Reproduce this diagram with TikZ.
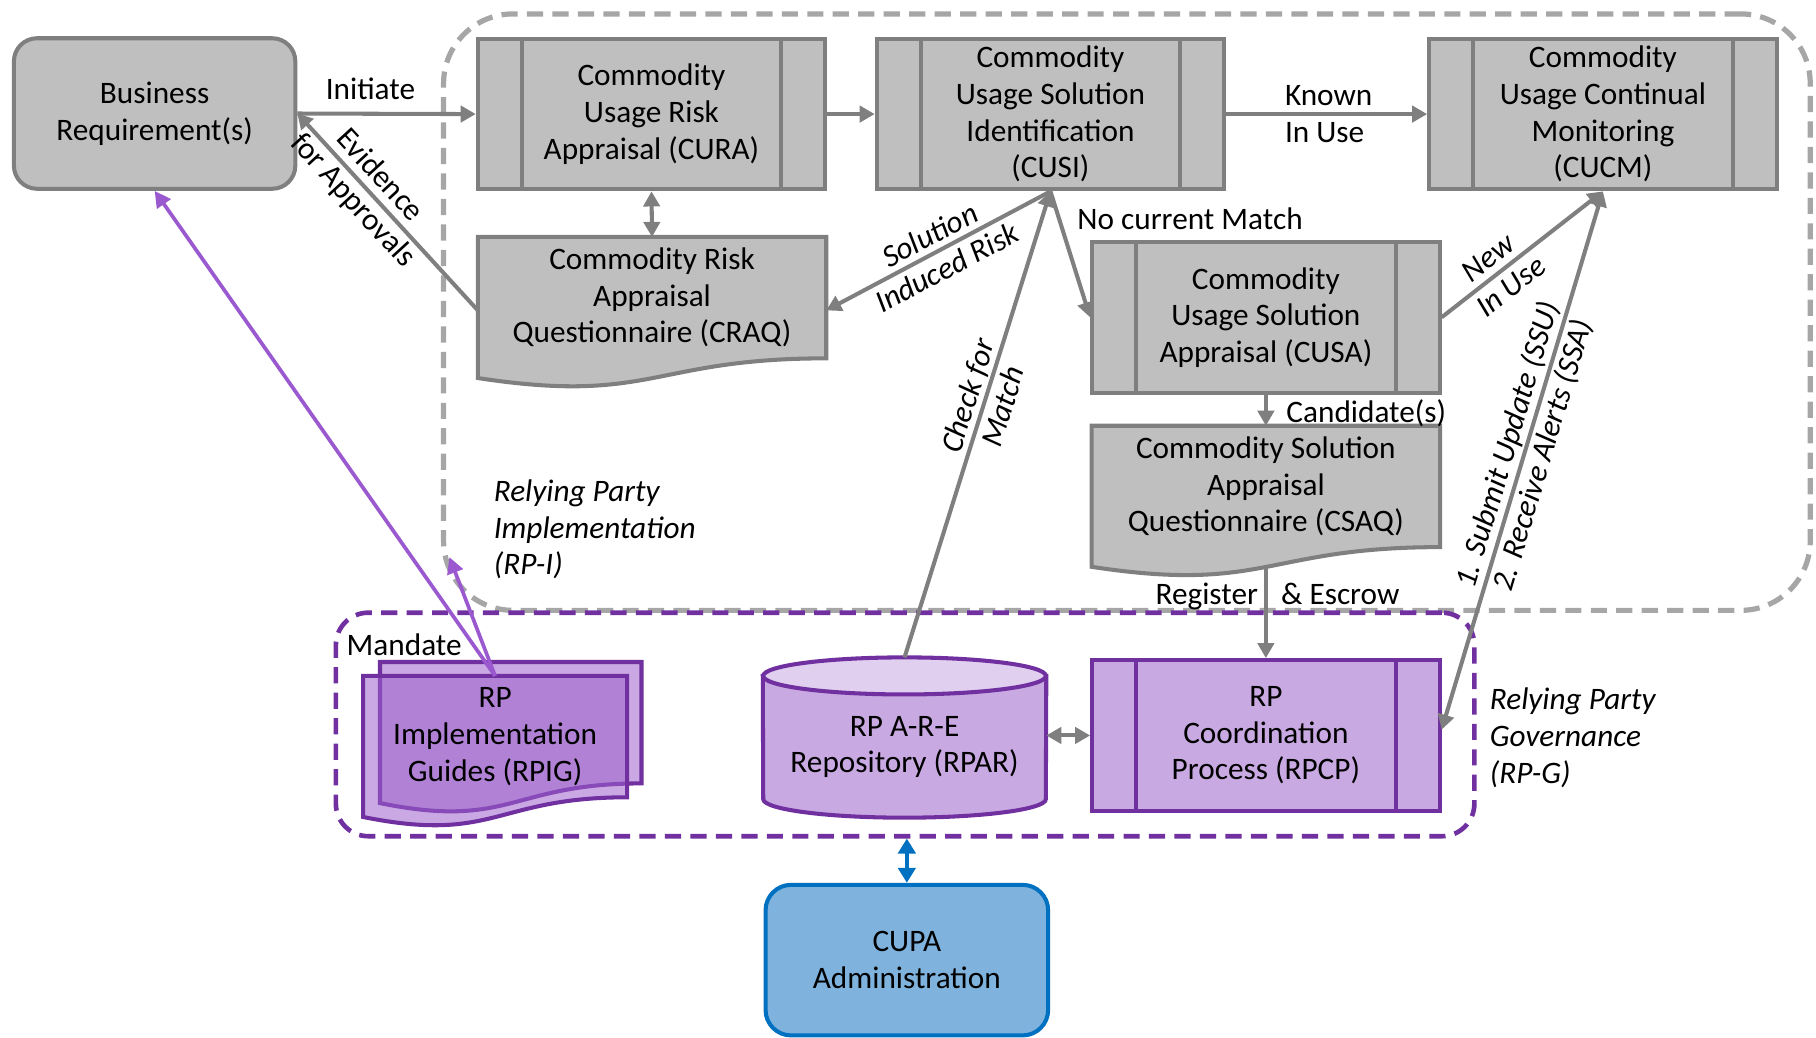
\documentclass[tikz,border=0pt]{standalone}
\usepackage{fontspec}
\setmainfont{Carlito}
\usetikzlibrary{arrows.meta,calc,backgrounds}

\definecolor{boxgray}{HTML}{BFBFBF}
\definecolor{edgegray}{HTML}{7F7F7F}
\definecolor{dashgray}{HTML}{A6A6A6}
\definecolor{rppurple}{HTML}{7030A0}
\definecolor{rplav}{HTML}{C9A9E2}
\definecolor{rplavlight}{HTML}{E1CFF0}
\definecolor{docpurple}{RGB}{157,97,204}
\definecolor{mandatepurple}{HTML}{9B59D0}
\definecolor{cupafill}{HTML}{7FB3DD}
\definecolor{cupablue}{HTML}{0070C0}

% flow-chart "document" outline hanging below a text node
\newcommand\docshape[2]{%
  \path[#2] (#1.north west) -- (#1.north east) -- (#1.south east)
    .. controls (#1.south) and ($(#1.south)+(0,40)$) .. ($(#1.south west)+(0,17)$) -- cycle;}

\begin{document}
\begin{tikzpicture}[x=0.5pt,y=-0.5pt,
  font=\fontsize{13.5pt}{15.8pt}\selectfont,
  lbl/.style={align=center, inner sep=0pt},
  ilbl/.style={lbl, font=\fontsize{13.5pt}{15.8pt}\selectfont\itshape},
  procbox/.style 2 args={draw=#1, fill=#2, line width=1.75pt, align=center, inner sep=0pt,
    minimum width=150pt, minimum height=65pt,
    path picture={\draw[draw=#1, line width=1.75pt]
      ([xshift=19pt]path picture bounding box.north west) -- ([xshift=19pt]path picture bounding box.south west)
      ([xshift=-19pt]path picture bounding box.north east) -- ([xshift=-19pt]path picture bounding box.south east);}},
  grayproc/.style={procbox={edgegray}{boxgray}},
  purpleproc/.style={procbox={rppurple}{rplav}},
  docnode/.style={align=center, inner sep=0pt, minimum height=52pt},
  graydoc/.style={draw=edgegray, fill=boxgray, line width=1.75pt},
  purpledoc/.style={draw=rppurple, fill=docpurple, fill opacity=0.55, line width=1.75pt},
  region/.style={inner sep=0pt, line width=2.25pt, dash pattern=on 7pt off 4pt},
  tip/.style={Triangle[length=6.5pt,width=7pt]},
  conn/.style={draw=edgegray, line width=1.75pt, -{Triangle[length=6.5pt,width=7pt]}},
  biconn/.style={conn, {Triangle[length=6.5pt,width=7pt]}-{Triangle[length=6.5pt,width=7pt]}},
  mandatearrow/.style={draw=mandatepurple, line width=1.6pt, -{Triangle[length=7pt,width=7pt]}},
]
\useasboundingbox (0,0) rectangle (1568,896);

% dashed regions
\node[region, draw=dashgray, rounded corners=30pt, minimum width=590pt, minimum height=257.5pt] (rpi) at (973,269.5) {};
\node[region, draw=rppurple, line width=2pt, rounded corners=14pt, minimum width=491.5pt, minimum height=96.5pt] (rpg) at (781.5,625.5) {};

% boxes
\node[draw=edgegray, fill=boxgray, line width=1.75pt, rounded corners=10pt, align=center, inner sep=0pt,
      minimum width=121.5pt, minimum height=65pt] (biz) at (133.5,98) {Business\\Requirement(s)};
\node[grayproc] (cura) at (562.5,98.5) {Commodity\\Usage Risk\\Appraisal (CURA)};
\node[grayproc] (cusi) at (907,98.5) {Commodity\\Usage Solution\\Identification\\(CUSI)};
\node[grayproc] (cucm) at (1384,98.5) {Commodity\\Usage Continual\\Monitoring\\(CUCM)};
\node[grayproc] (cusa) at (1093,274) {Commodity\\Usage Solution\\Appraisal (CUSA)};
\node[docnode, minimum width=150pt] (craq) at (563,257) {Commodity Risk\\Appraisal\\Questionnaire (CRAQ)};
\node[docnode, minimum width=150pt] (csaq) at (1093,420) {Commodity Solution\\Appraisal\\Questionnaire (CSAQ)};
\node[purpleproc] (rpcp) at (1093,635) {RP\\Coordination\\Process (RPCP)};
\node[lbl, minimum width=122pt, minimum height=61pt] (rpar) at (781,645) {RP A-R-E\\Repository (RPAR)};
\node[docnode, minimum width=112.5pt] (rpigback) at (441,624) {};
\node[docnode, minimum width=113.5pt] (rpig) at (427.5,636) {RP\\Implementation\\Guides (RPIG)};
\node[draw=cupablue, fill=cupafill, line width=1.75pt, rounded corners=11pt, align=center, inner sep=0pt,
      minimum width=122pt, minimum height=65pt] (cupa) at (783,829) {CUPA\\Administration};

% document and cylinder outlines behind their texts
\begin{pgfonlayer}{background}
  \docshape{craq}{graydoc}
  \docshape{csaq}{graydoc}
  \docshape{rpigback}{purpledoc}
  \docshape{rpig}{purpledoc}
  \path[draw=rppurple, fill=rplav, line width=1.75pt] (rpar.north west) -- (659,690)
    .. controls (659,698.8) and (713.6,706) .. (781,706)
    .. controls (848.4,706) and (903,698.8) .. (903,690) -- (rpar.north east) -- cycle;
  \path[draw=rppurple, fill=rplavlight, line width=1.75pt] (rpar.north) ellipse [x radius=61pt, y radius=8pt];
\end{pgfonlayer}

% connectors
\draw[conn] (biz.east) -- node[lbl, pos=0.41, above=5pt] (tinit) {Initiate} (cura.west);
\draw[conn] (cura.east) -- (cusi.west);
\draw[conn] (cusi.east) -- node[pos=0.51, align=left, inner sep=0pt] (tknown) {Known\\In Use} (cucm.west);
\draw[biconn] (cura.south) -- (craq.north);
\draw[conn] ([yshift=-5.5pt]craq.west) -- node[lbl, pos=0.62, sloped] (tevid) {Evidence\\for Approvals} (biz.east);
\draw[conn] (cusi.south) -- node[ilbl, pos=0.5, sloped] (tsol) {Solution\\Induced Risk} ([yshift=-5.5pt]craq.east);
\draw[conn] ([yshift=8pt]rpar.north) -- node[ilbl, pos=0.55, sloped] (tcheck) {Check for\\Match} (cusi.south);
\draw[conn] (cusi.south) -- node[lbl, pos=0.22, anchor=west, xshift=7pt] (tnomatch) {No current Match} (cusa.west);
\draw[conn] (cusa.east) -- node[ilbl, pos=0.36, sloped] (tnew) {New\\In Use} (cucm.south);
\draw[conn] (cusa.south) -- node[lbl, pos=0.6, anchor=west, xshift=8pt] (tcand) {Candidate(s)} (csaq.north);
\draw[conn] ([yshift=-8.5pt]csaq.south) -- node[lbl, pos=0.32, xshift=5pt] (treg) {Register\hspace{10pt}\& Escrow} (rpcp.north);
\draw[biconn] ([yshift=2.5pt]rpcp.east) -- node[ilbl, pos=0.52, sloped] (tssu) {1. Submit Update (SSU)\\2. Receive Alerts (SSA)} (cucm.south);
\draw[biconn] (rpar.east |- rpcp.west) -- (rpcp.west);
\coordinate (rpientry) at (388,481);
\draw[mandatearrow] (rpig.north) -- (biz.south);
\draw[mandatearrow] (rpig.north) -- (rpientry);
\draw[draw=cupablue, line width=1.6pt, {Triangle[length=6.5pt,width=7.5pt]}-{Triangle[length=6.5pt,width=7.5pt]}]
  (cupa.north |- rpg.south) -- (cupa.north);

% free labels
\node[lbl] (tmandate) at (349,557) {Mandate};
\node[ilbl, align=left, anchor=west] (trpi) at (426,457) {Relying Party\\Implementation\\(RP-I)};
\node[ilbl, align=left, anchor=west] (trpg) at (1286,637) {Relying Party\\Governance\\(RP-G)};
\end{tikzpicture}
\end{document}
